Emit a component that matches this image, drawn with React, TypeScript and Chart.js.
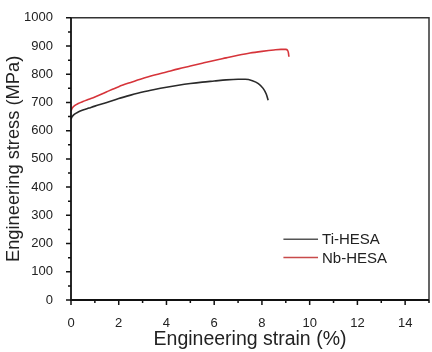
import React, { useEffect, useRef } from "react";
import { Chart, registerables } from "chart.js";

Chart.register(...registerables);

// ---- data ----
const tiStrain = [0, 0.05, 0.15, 0.3, 0.5, 0.75, 1, 1.5, 2, 2.5, 3, 3.5, 4, 4.5, 5, 5.5, 6, 6.5, 7, 7.3, 7.6, 7.85, 8.05, 8.18, 8.26];
const tiStress = [641, 650, 659, 666, 673, 680, 687, 700, 714, 726, 737, 746, 754, 761, 767, 772, 776, 780, 782, 782, 777, 767, 750, 730, 708];

const nbStrain = [0, 0.05, 0.15, 0.3, 0.5, 0.75, 1, 1.5, 2, 2.5, 3, 3.5, 4, 4.5, 5, 5.5, 6, 6.5, 7, 7.5, 8, 8.5, 8.8, 9.0, 9.07, 9.11, 9.13];
const nbStress = [670, 680, 689, 696, 703, 711, 719, 738, 756, 771, 785, 797, 808, 819, 829, 839, 849, 858, 867, 875, 881, 886, 888, 888, 885, 876, 862];

const seriesNames = ["Ti-HESA", "Nb-HESA"];
const seriesColors = ["#2a2a2a", "#d6343a"];
const legendColors = ["#555555", "#c84a4a"];

const X_MIN = 0, X_MAX = 15, X_STEP = 2, X_MINOR = 1;
const Y_MIN = 0, Y_MAX = 1000, Y_STEP = 100, Y_MINOR = 50;
const xTitle = "Engineering strain (%)";
const yTitle = "Engineering stress (MPa)";

const FONT = '"Liberation Sans", Arial, Helvetica, sans-serif';

const framePlugin = {
  id: "frameAndTicks",
  afterDraw(chart: any) {
    const { ctx, chartArea: a, scales } = chart;
    const x = scales.x, y = scales.y;
    ctx.save();
    // top / right frame
    ctx.strokeStyle = "#333";
    ctx.lineWidth = 1.5;
    ctx.beginPath();
    ctx.moveTo(a.left, a.top);
    ctx.lineTo(a.right, a.top);
    ctx.lineTo(a.right, a.bottom);
    ctx.stroke();
    // axes
    ctx.strokeStyle = "#111";
    ctx.lineWidth = 1.8;
    ctx.beginPath();
    ctx.moveTo(a.left, a.top);
    ctx.lineTo(a.left, a.bottom);
    ctx.lineTo(a.right, a.bottom);
    ctx.stroke();
    // ticks
    ctx.lineWidth = 1.5;
    ctx.beginPath();
    for (let v = X_MIN; v <= X_MAX + 1e-9; v += X_MINOR) {
      const px = x.getPixelForValue(v);
      const major = Math.abs(v % X_STEP) < 1e-9;
      ctx.moveTo(px, a.bottom);
      ctx.lineTo(px, a.bottom + (major ? 5 : 3));
    }
    for (let v = Y_MIN; v <= Y_MAX + 1e-9; v += Y_MINOR) {
      const py = y.getPixelForValue(v);
      const major = Math.abs(v % Y_STEP) < 1e-9;
      ctx.moveTo(a.left, py);
      ctx.lineTo(a.left - (major ? 5 : 3), py);
    }
    ctx.stroke();

    // legend
    const lx0 = x.getPixelForValue(8.9);
    const lx1 = x.getPixelForValue(10.35);
    const ly = [y.getPixelForValue(215), y.getPixelForValue(151)];
    ctx.font = `15px ${FONT}`;
    ctx.textBaseline = "middle";
    ctx.textAlign = "left";
    seriesNames.forEach((name, i) => {
      ctx.strokeStyle = legendColors[i];
      ctx.lineWidth = 1.5;
      ctx.beginPath();
      ctx.moveTo(lx0, ly[i]);
      ctx.lineTo(lx1, ly[i]);
      ctx.stroke();
      ctx.fillStyle = "#222";
      ctx.fillText(name, lx1 + 4, ly[i] + 1);
    });
    ctx.restore();
  },
};

export default function App() {
  const ref = useRef<HTMLCanvasElement>(null);
  useEffect(() => {
    if (!ref.current) return;
    const chart = new Chart(ref.current, {
      type: "line",
      data: {
        datasets: [
          {
            label: seriesNames[0],
            data: tiStrain.map((s, i) => ({ x: s, y: tiStress[i] })),
            borderColor: seriesColors[0],
            borderWidth: 1.6,
            pointRadius: 0,
            cubicInterpolationMode: "monotone",
            fill: false,
          },
          {
            label: seriesNames[1],
            data: nbStrain.map((s, i) => ({ x: s, y: nbStress[i] })),
            borderColor: seriesColors[1],
            borderWidth: 1.6,
            pointRadius: 0,
            cubicInterpolationMode: "monotone",
            fill: false,
          },
        ],
      },
      options: {
        animation: false,
        responsive: false,
        devicePixelRatio: 1,
        layout: { padding: { top: 7, right: 3, bottom: 2.5, left: 0 } },
        plugins: { legend: { display: false }, tooltip: { enabled: false } },
        scales: {
          x: {
            type: "linear",
            min: X_MIN,
            max: X_MAX,
            grid: { display: false },
            border: { display: false },
            ticks: {
              stepSize: X_STEP,
              includeBounds: false,
              padding: 8,
              color: "#222",
              font: { family: FONT, size: 13 },
              maxRotation: 0,
              callback: (v: any) => String(v),
            },
            title: {
              display: true,
              text: xTitle,
              color: "#222",
              font: { family: FONT, size: 19.5, lineHeight: 1 },
              padding: 0,
            },
            afterFit(s: any) {
              s.height = 49.5;
            },
          },
          y: {
            type: "linear",
            min: Y_MIN,
            max: Y_MAX,
            grid: { display: false },
            border: { display: false },
            ticks: {
              stepSize: Y_STEP,
              padding: 10,
              color: "#222",
              font: { family: FONT, size: 13 },
              callback: (v: any) => String(v),
            },
            title: {
              display: true,
              text: yTitle,
              color: "#222",
              font: { family: FONT, size: 18.3, lineHeight: 1 },
              padding: { top: 5, bottom: 0 },
            },
            afterFit(s: any) {
              s.width = 71;
            },
          },
        },
      },
      plugins: [framePlugin],
    } as any);
    return () => chart.destroy();
  }, []);
  return (
    <div style={{ position: "fixed", left: 0, top: 0, width: 432, height: 352, background: "#fff" }}>
      <canvas ref={ref} width={432} height={352} style={{ display: "block" }} />
    </div>
  );
}
